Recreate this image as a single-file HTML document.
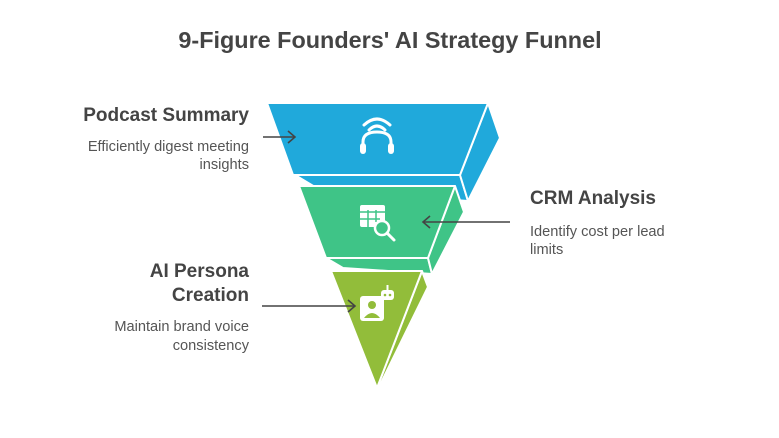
<!DOCTYPE html>
<html><head><meta charset="utf-8"><style>
body{margin:0;width:779px;height:438px;background:#fff;overflow:hidden;font-family:"Liberation Sans",sans-serif;}
svg{position:absolute;left:0;top:0}
</style></head><body>
<svg width="779" height="438" viewBox="0 0 779 438">
<text x="390" y="48" text-anchor="middle" font-size="23.4" font-weight="bold" fill="#444">9-Figure Founders' AI Strategy Funnel</text>
<g fill="#20a9db" stroke="#fff" stroke-width="2" stroke-linejoin="round">
<polygon points="295,175 460,175 468,201 320,190"/>
<polygon points="488,103 500,138 468,201 460,175"/>
<polygon points="267,103 488,103 460,175 293,175"/>
</g>
<g fill="#3fc487" stroke="#fff" stroke-width="2" stroke-linejoin="round">
<polygon points="326,258 428,258 432,274 343,268"/>
<polygon points="455,186 464,212 432,274 428,258"/>
<polygon points="299,186 455,186 428,258 326,258"/>
</g>
<g fill="#92bd3a" stroke="#fff" stroke-width="2" stroke-linejoin="round">
<polygon points="422,271 428,287 380,385 377,388"/>
<polygon points="331,271 422,271 377,388"/>
</g>
<g fill="none" stroke="#fff" stroke-width="3" stroke-linecap="round">
<path d="M364,125 Q377,113 390,125"/>
<path d="M369,130 Q377,122 385,130"/>
<path d="M363,152 L363,142 Q363,132 377,132 Q391,132 391,142 L391,152"/>
</g>
<rect x="360" y="143" width="6" height="11" rx="3" fill="#fff"/>
<rect x="388" y="143" width="6" height="11" rx="3" fill="#fff"/>
<g fill="#fff"><rect x="360" y="205" width="25" height="22" rx="2"/></g>
<g stroke="#3fc487" stroke-width="1.5"><line x1="360" y1="212" x2="385" y2="212"/><line x1="360" y1="219" x2="380" y2="219"/><line x1="368" y1="210" x2="368" y2="227"/><line x1="376" y1="210" x2="376" y2="222"/></g>
<circle cx="382" cy="228" r="7" fill="#3fc487" stroke="#fff" stroke-width="2.5"/>
<line x1="387" y1="233" x2="394" y2="240" stroke="#fff" stroke-width="3" stroke-linecap="round"/>
<rect x="360" y="296" width="24" height="25" rx="3" fill="#fff"/>
<circle cx="372" cy="305" r="4" fill="#92bd3a"/>
<path d="M364,318 Q372,308 380,318 Z" fill="#92bd3a"/>
<rect x="381" y="290" width="13" height="10" rx="3" fill="#fff"/>
<line x1="387.5" y1="285" x2="387.5" y2="290" stroke="#fff" stroke-width="2"/>
<circle cx="385" cy="295" r="1.3" fill="#92bd3a"/><circle cx="390" cy="295" r="1.3" fill="#92bd3a"/>
<g stroke="#444" stroke-width="1.6" fill="none">
<line x1="263" y1="137" x2="294" y2="137"/><polyline points="288,131 295,137 288,143"/>
<line x1="510" y1="222" x2="424" y2="222"/><polyline points="430,216 423,222 430,228"/>
<line x1="262" y1="306" x2="354" y2="306"/><polyline points="348,300 355,306 348,312"/>
</g>
<g font-size="19" font-weight="bold" fill="#444">
<text x="249" y="121" text-anchor="end">Podcast Summary</text>
<text x="530" y="204">CRM Analysis</text>
<text x="249" y="277" text-anchor="end">AI Persona</text>
<text x="249" y="301" text-anchor="end">Creation</text>
</g>
<g font-size="14.6" fill="#555">
<text x="249" y="151" text-anchor="end">Efficiently digest meeting</text>
<text x="249" y="169" text-anchor="end">insights</text>
<text x="530" y="236">Identify cost per lead</text>
<text x="530" y="254">limits</text>
<text x="249" y="331" text-anchor="end">Maintain brand voice</text>
<text x="249" y="350" text-anchor="end">consistency</text>
</g>
</svg>
</body></html>
